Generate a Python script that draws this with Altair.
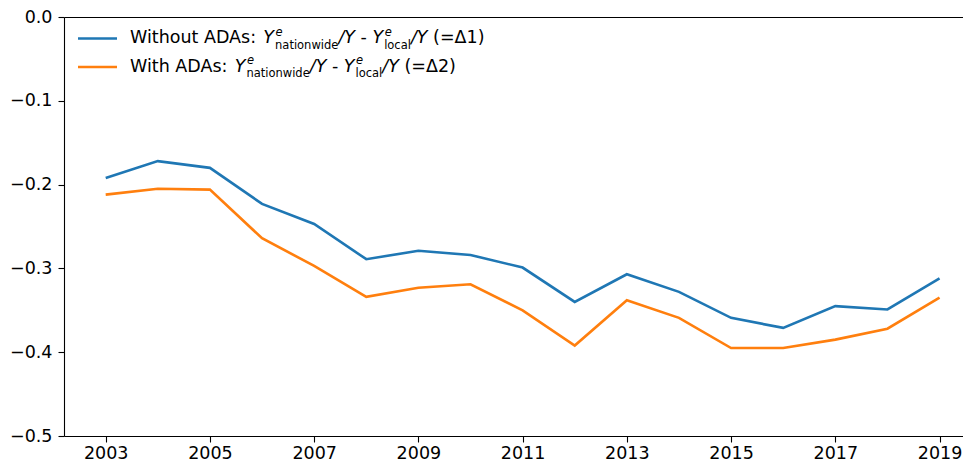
import altair as alt
import pandas as pd

# ---------------- data ----------------
years = list(range(2003, 2020))
without_adas = [-0.192, -0.172, -0.180, -0.223, -0.247, -0.289, -0.279, -0.284, -0.299,
                -0.340, -0.307, -0.328, -0.359, -0.371, -0.345, -0.349, -0.312]
with_adas = [-0.212, -0.205, -0.206, -0.264, -0.297, -0.334, -0.323, -0.319, -0.350,
             -0.392, -0.338, -0.359, -0.395, -0.395, -0.385, -0.372, -0.335]
series_names = ["Without ADAs", "With ADAs"]
series_colors = ["#1f77b4", "#ff7f0e"]
x_ticks = list(range(2003, 2020, 2))
y_ticks = [0.0, -0.1, -0.2, -0.3, -0.4, -0.5]
legend_prefix = ["Without ADAs: ", "With ADAs: "]
legend_suffix = ["(=Δ1)", "(=Δ2)"]

df = pd.DataFrame({
    "year": years * 2,
    "value": without_adas + with_adas,
    "series": [series_names[0]] * len(years) + [series_names[1]] * len(years),
})

# ---------------- layout ----------------
W, H = 899, 419
FONT = "DejaVu Sans"
F = 17.5          # tick font size
LF = 17.5         # legend font size
S = 11.5          # sub/superscript size
LW = 2.6

xscale = alt.Scale(domain=[2002.2, 2019.45], nice=False, zero=False)
yscale = alt.Scale(domain=[-0.5, 0.0], nice=False, zero=False)

axis_common = dict(
    title=None, grid=False, domainColor="black", domainWidth=1.1,
    tickColor="black", tickWidth=1.1, tickSize=6,
    labelColor="black", labelFont=FONT, labelFontSize=F,
)

lines = alt.Chart(df).mark_line(strokeWidth=LW, clip=True).encode(
    x=alt.X("year:Q", scale=xscale,
            axis=alt.Axis(values=x_ticks, format="d", labelPadding=2, **axis_common)),
    y=alt.Y("value:Q", scale=yscale,
            axis=alt.Axis(values=y_ticks, format=".1f", labelPadding=6, **axis_common)),
    color=alt.Color("series:N", scale=alt.Scale(domain=series_names, range=series_colors),
                    legend=None),
    detail="series:N",
)

# top spine (axis with domain only)
top_spine = alt.Chart(df).mark_point(opacity=0).encode(
    x=alt.X("year:Q", scale=xscale,
            axis=alt.Axis(orient="top", labels=False, ticks=False, title=None,
                          grid=False, domainColor="black", domainWidth=1.1)),
    y=alt.Y("value:Q", scale=yscale),
)

# ---------------- legend (text pieces with math-like sub/superscripts) ----------------
WD = {' ': 0.318, 'W': 0.989, 'i': 0.278, 't': 0.392, 'h': 0.634, 'o': 0.612, 'u': 0.634,
      'A': 0.684, 'D': 0.770, 's': 0.521, ':': 0.337, 'n': 0.634, 'a': 0.613, 'w': 0.818,
      'd': 0.635, 'e': 0.615, '/': 0.337, 'Y': 0.611, '-': 0.361, 'l': 0.278, 'c': 0.550,
      '(': 0.390, ')': 0.390, '=': 0.838, 'Δ': 0.684, '1': 0.636, '2': 0.636}


def wid(s, size):
    return sum(WD.get(c, 0.6) for c in s) * size


one_row = alt.Data(values=[{"k": 0}])


def piece(x, y, text, size, italic=False):
    return alt.Chart(one_row).mark_text(
        align="left", baseline="alphabetic", font=FONT, fontSize=size,
        fontStyle="italic" if italic else "normal", color="black",
    ).encode(x=alt.value(x), y=alt.value(y), text=alt.value(text))


legend_layers = []
line_y = [21.5, 50.0]
for i in range(2):
    ly = line_y[i]
    legend_layers.append(
        alt.Chart(one_row).mark_rule(strokeWidth=LW, color=series_colors[i]).encode(
            x=alt.value(14), x2=alt.value(53), y=alt.value(ly))
    )
    base = ly + 4.5
    x = 66.0
    legend_layers.append(piece(x, base, legend_prefix[i].strip(), LF))
    x += wid(legend_prefix[i], LF) + 1.0
    for sub in ["nationwide", "local"]:
        legend_layers.append(piece(x, base, "Y", LF, True))
        x += wid("Y", LF) + 1.0
        legend_layers.append(piece(x + 0.5, base - 7.5, "e", S, True))
        legend_layers.append(piece(x, base + 5.5, sub, S))
        x += wid(sub, S)
        legend_layers.append(piece(x, base, "/Y", LF, True))
        x += wid("/Y", LF)
        if sub == "nationwide":
            x += wid(" ", LF)
            legend_layers.append(piece(x, base, "-", LF))
            x += wid("- ", LF)
    x += wid(" ", LF)
    legend_layers.append(piece(x, base, legend_suffix[i], LF))

chart = alt.layer(lines, top_spine, *legend_layers).resolve_axis(
    x="independent"
).properties(
    width=W, height=H,
    autosize=alt.AutoSizeParams(type="none"),
    padding={"left": 56, "top": 9, "right": 0, "bottom": 30},
).configure_view(stroke=None).configure(background="white")

chart.save("out.html", embed_options={"renderer": "svg", "actions": False})
